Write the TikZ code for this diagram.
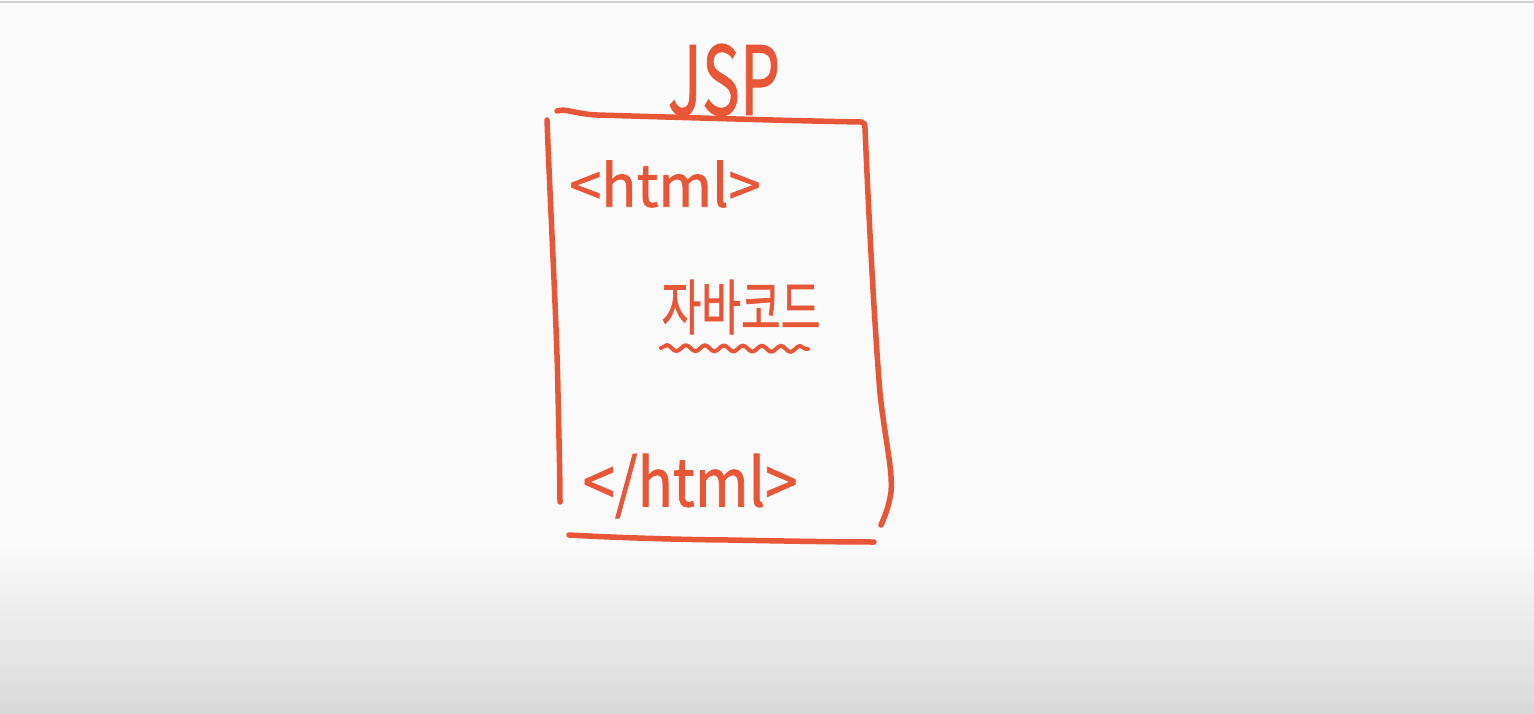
\documentclass[tikz,border=0pt]{standalone}
\usepackage{fontspec}
\setmainfont{Noto Sans CJK KR}[FakeBold=1.2]
\newfontfamily\handfont{Noto Sans CJK KR}[FakeBold=1.2]
\usetikzlibrary{decorations.pathmorphing}
\definecolor{pen}{RGB}{232,86,56}
\definecolor{bgtop}{RGB}{250,250,250}
\definecolor{bgbot}{RGB}{217,217,217}
\definecolor{topline}{RGB}{208,208,208}
\begin{document}
\begin{tikzpicture}[x=1pt,y=-1pt,
  pen/.style={draw=pen,line width=5.5pt,line cap=round,line join=round},
  hand/.style={text=pen,inner sep=0pt,anchor=center}]
\useasboundingbox (0,0) rectangle (1534,714);
\fill[bgtop] (0,0) rectangle (1534,714);
\shade[top color=bgtop,bottom color=bgbot] (0,545) rectangle (1534,714);
\fill[topline] (0,1) rectangle (1534,3.5);
% box
\draw[pen] (557,111) .. controls (566,108) and (575,114) .. (597,115)
  .. controls (700,118) and (800,121) .. (861,122)
  .. controls (864,122) and (865,124) .. (865,128)
  .. controls (868,200) and (874,320) .. (880,393)
  .. controls (885,440) and (893,470) .. (891,492)
  .. controls (889,506) and (885,516) .. (881,525);
\draw[pen] (547,120) .. controls (550,200) and (557,330) .. (558,393)
  .. controls (559,440) and (560,480) .. (560,502);
\draw[pen] (569,535) .. controls (620,538) and (700,540) .. (730,540)
  .. controls (780,541) and (840,542) .. (874,542);
% texts
\node[hand,font=\handfont\fontsize{95}{95}\selectfont,xscale=0.67] (jsp) at (724,80) {JSP};
\node[hand,font=\handfont\fontsize{58}{58}\selectfont] (open) at (665,184) {<html>};
\node[hand,font=\handfont\fontsize{60}{60}\selectfont,xscale=0.72] (code) at (741,307) {자바코드};
\node[hand,font=\handfont\fontsize{66}{66}\selectfont,xscale=0.88] (close) at (690,486) {</html>};
\draw[pen,line width=4pt,decorate,decoration={snake,segment length=19,amplitude=3}] (661,348) -- (808,349);
\end{tikzpicture}
\end{document}
